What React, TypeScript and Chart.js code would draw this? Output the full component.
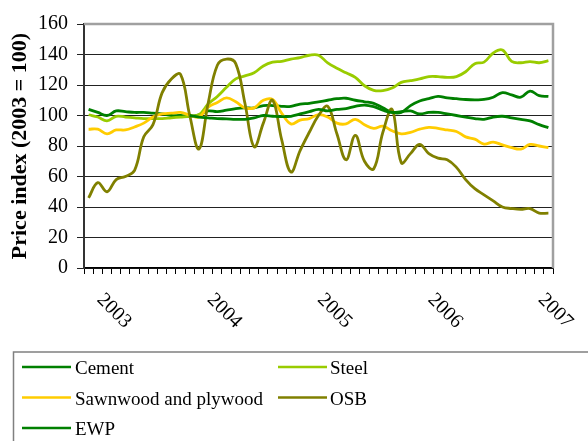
import { useEffect, useRef } from "react";
import { Chart, registerables } from "chart.js";

Chart.register(...registerables);

const categories = [
  "Nov 02", "Dec 02",
  "Jan 03", "Feb 03", "Mar 03", "Apr 03", "May 03", "Jun 03", "Jul 03", "Aug 03", "Sep 03", "Oct 03", "Nov 03", "Dec 03",
  "Jan 04", "Feb 04", "Mar 04", "Apr 04", "May 04", "Jun 04", "Jul 04", "Aug 04", "Sep 04", "Oct 04", "Nov 04", "Dec 04",
  "Jan 05", "Feb 05", "Mar 05", "Apr 05", "May 05", "Jun 05", "Jul 05", "Aug 05", "Sep 05", "Oct 05", "Nov 05", "Dec 05",
  "Jan 06", "Feb 06", "Mar 06", "Apr 06", "May 06", "Jun 06", "Jul 06", "Aug 06", "Sep 06", "Oct 06", "Nov 06", "Dec 06",
  "Jan 07",
];

const yearTickCategories = ["Jan 03", "Jan 04", "Jan 05", "Jan 06", "Jan 07"];
const yearTickLabels = ["2003", "2004", "2005", "2006", "2007"];

const cement = [
  104, 102, 100, 103, 102.5, 102, 102, 101.5, 101, 100,
  100, 99.5, 100.5, 103, 102.5, 103.5, 104.5, 105, 105, 106.5,
  106.5, 106, 106, 107.5, 108, 109, 110, 111, 111.3, 110,
  109, 108, 105, 102, 102, 106.5, 109.5, 111, 112.5, 111.5,
  111, 110.5, 110.3, 110.5, 112, 115, 113.5, 112, 116, 113, 112.5,
];

const steel = [
  100.5, 99, 96.5, 99.5, 99, 98.5, 98, 98, 98, 98.5,
  99, 99.5, 100.5, 107.5, 112.5, 118.5, 124, 126, 128, 132.5,
  135, 135.5, 137, 138, 139.5, 139.5, 134.5, 131, 128, 125,
  119.5, 116.5, 116.3, 118, 121.7, 122.8, 124, 125.5, 125.5, 125,
  125.5, 128.7, 134, 135, 141, 143, 135.5, 134.6, 135.3, 134.6, 136,
];

const sawnwood = [
  91, 91, 88, 90.5, 90.5, 92.5, 95, 99, 101, 101.5,
  102, 100.3, 99, 105.5, 108.5, 111.5, 109, 105, 105, 110,
  110.5, 101.4, 94.5, 97, 98, 100.5, 99, 95, 94.5, 97.5,
  94, 91.6, 93, 90, 88, 89, 91, 92.2, 91.6, 90.5,
  89.5, 86, 84.5, 81.3, 82.6, 80.7, 78.9, 78, 81, 80, 79,
];

const osb = [
  46, 56, 50, 58, 60, 64, 86, 94, 115, 124,
  127, 100, 78, 108, 133, 137, 134, 108, 79.5, 95,
  110, 84, 63, 77, 89, 100, 106, 88, 71, 87,
  70, 65, 89, 104, 69, 75, 81, 75, 72, 71,
  66, 58, 52, 48, 44, 40, 39, 38.5, 39, 36, 36,
];

const ewp = [
  null, null, null, null, null, null, null, null, null, null,
  null, 100, 99, 98.5, 98, 97.8, 97.5, 97.5, 98.5, 100,
  99.5, 99.2, 99.5, 101, 102.5, 104, 103, 104, 104.5, 106,
  106.8, 105.8, 103.5, 102, 102.5, 103, 101, 102, 102, 101,
  100, 99, 98, 97.5, 99, 99.5, 98.5, 97.5, 96.5, 94, 92,
];

const seriesNames = ["Cement", "Steel", "Sawnwood and plywood", "OSB", "EWP"];
const seriesColors = ["#008000", "#99CC00", "#FFCC00", "#808000", "#008000"];
const seriesData = [cement, steel, sawnwood, osb, ewp];

const yMin = 0;
const yMax = 160;
const yStep = 20;
const yTitle = "Price index (2003 = 100)";

const FONT = '"Liberation Serif", "Times New Roman", serif';

export default function App() {
  const ref = useRef<HTMLCanvasElement>(null);

  useEffect(() => {
    const canvas = ref.current;
    if (!canvas) return;

    const plotLeft = 84;
    const plotTop = 24;
    const plotRight = 553;
    const plotBottom = 268;
    const xAxisH = 10;

    const yearLabelPlugin = {
      id: "yearLabels",
      afterDraw(chart: any) {
        const ctx = chart.ctx;
        const xs = chart.scales.x;
        ctx.save();
        ctx.font = `20px ${FONT}`;
        ctx.fillStyle = "#000";
        ctx.textAlign = "center";
        ctx.textBaseline = "middle";
        yearTickCategories.forEach((c, k) => {
          const i = categories.indexOf(c);
          const x = xs.getPixelForValue(i) + 7;
          ctx.save();
          ctx.translate(x, 311);
          ctx.rotate(Math.PI / 4);
          ctx.fillText(yearTickLabels[k], 0, 0);
          ctx.restore();
        });
        ctx.restore();
      },
    };

    const framePlugin = {
      id: "frame",
      afterDraw(chart: any) {
        const { ctx, chartArea } = chart;
        ctx.save();
        ctx.strokeStyle = "#a0a0a0";
        ctx.lineWidth = 2.5;
        ctx.beginPath();
        ctx.moveTo(chartArea.left, chartArea.top);
        ctx.lineTo(chartArea.right, chartArea.top);
        ctx.lineTo(chartArea.right, chartArea.bottom);
        ctx.stroke();
        ctx.restore();
      },
    };

    const legendPlugin = {
      id: "customLegend",
      afterDraw(chart: any) {
        const ctx = chart.ctx;
        ctx.save();
        ctx.strokeStyle = "#808080";
        ctx.lineWidth = 1.5;
        ctx.strokeRect(13.5, 352, 700, 200);
        ctx.font = `19px ${FONT}`;
        ctx.textAlign = "left";
        ctx.textBaseline = "middle";
        chart.data.datasets.forEach((ds: any, i: number) => {
          const col = i % 2;
          const row = Math.floor(i / 2);
          const lx = col === 0 ? 22 : 278;
          const tx = col === 0 ? 75 : 330;
          const ly = 367 + row * 30.5;
          ctx.strokeStyle = ds.borderColor;
          ctx.lineWidth = 2.7;
          ctx.beginPath();
          ctx.moveTo(lx, ly);
          ctx.lineTo(lx + 49, ly);
          ctx.stroke();
          ctx.fillStyle = "#000";
          ctx.fillText(ds.label, tx, ly + 2.5);
        });
        ctx.restore();
      },
    };

    const chart = new Chart(canvas, {
      type: "line",
      data: {
        labels: categories,
        datasets: seriesNames.map((name, i) => ({
          label: name,
          data: seriesData[i] as any,
          borderColor: seriesColors[i],
          backgroundColor: seriesColors[i],
          borderWidth: 2.8,
          pointRadius: 0,
          tension: 0.4,
          fill: false,
          spanGaps: false,
          order: 5 - i,
        })),
      },
      options: {
        responsive: false,
        animation: false,
        devicePixelRatio: 1,
        layout: {
          padding: {
            left: 0,
            top: plotTop,
            right: 588 - plotRight,
            bottom: 441 - plotBottom - xAxisH,
          },
        },
        plugins: {
          legend: { display: false },
          tooltip: { enabled: false },
          title: { display: false },
        },
        scales: {
          x: {
            type: "category",
            offset: true,
            grid: {
              offset: true,
              drawOnChartArea: false,
              drawTicks: true,
              tickLength: 6,
              color: "#000",
              lineWidth: 1,
            },
            border: { color: "#000", width: 1.5 },
            ticks: { display: false, autoSkip: false },
            afterFit(scale: any) {
              scale.height = xAxisH;
            },
          },
          y: {
            min: yMin,
            max: yMax,
            grid: {
              color: "#222",
              lineWidth: 1,
              tickLength: 7,
            },
            border: { color: "#333", width: 2 },
            ticks: {
              stepSize: yStep,
              padding: 9,
              color: "#000",
              font: { family: FONT, size: 20 },
            },
            title: {
              display: true,
              text: yTitle,
              color: "#000",
              font: { family: FONT, size: 22, weight: "bold" },
              padding: { top: 7.5, bottom: 0 },
            },
            afterFit(scale: any) {
              scale.width = plotLeft;
            },
          },
        },
      },
      plugins: [framePlugin, yearLabelPlugin, legendPlugin],
    });

    return () => chart.destroy();
  }, []);

  return (
    <div style={{ position: "absolute", left: 0, top: 0, width: 588, height: 441, background: "#fff" }}>
      <canvas ref={ref} width={588} height={441} style={{ display: "block", width: 588, height: 441 }} />
    </div>
  );
}
